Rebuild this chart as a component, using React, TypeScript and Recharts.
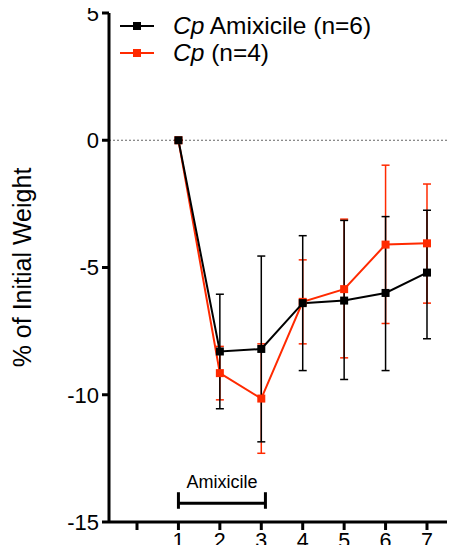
import { LineChart, Line, XAxis, YAxis, ErrorBar, ReferenceLine } from "recharts";

// days post infection
const days = [1, 2, 3, 4, 5, 6, 7];

// Cp Amixicile (n=6): mean and error bar ends
const amixMean = [0, -8.3, -8.2, -6.4, -6.3, -6.0, -5.2];
const amixLow = [0, -10.55, -11.85, -9.05, -9.4, -9.05, -7.8];
const amixHigh = [0, -6.05, -4.55, -3.75, -3.15, -3.0, -2.75];

// Cp (n=4)
const cpMean = [0, -9.15, -10.15, -6.35, -5.85, -4.1, -4.05];
const cpLow = [0, -10.2, -12.3, -8.0, -8.55, -7.2, -6.4];
const cpHigh = [0, -8.1, -8.0, -4.7, -3.1, -0.98, -1.72];

const xTicks = [0, 1, 2, 3, 4, 5, 6, 7];
const yTicks = [-15, -10, -5, 0, 5];

// treatment bracket
const treatStart = 1;
const treatEnd = 3.1;
const treatY = -14.26;
const capTop = -13.83;
const capBottom = -14.48;

const BLACK = "#000";
const RED = "#ff2a00";
const FONT = "'Liberation Sans', Arial, Helvetica, sans-serif";

const data = days.map((d, i) => ({
  day: d,
  amix: amixMean[i],
  amixErr: [amixMean[i] - amixLow[i], amixHigh[i] - amixMean[i]],
  cp: cpMean[i],
  cpErr: [cpMean[i] - cpLow[i], cpHigh[i] - cpMean[i]],
}));

const square = (color: string) => (props: any) => {
  const { cx, cy, index } = props;
  return <rect key={index} x={cx - 4} y={cy - 4} width={8} height={8} fill={color} />;
};

function LegendBox() {
  const rows = [
    { color: BLACK, italic: "Cp", rest: " Amixicile (n=6)" },
    { color: RED, italic: "Cp", rest: " (n=4)" },
  ];
  return (
    <div
      style={{
        position: "absolute",
        top: 12,
        left: 119,
        fontFamily: FONT,
        fontSize: 24.5,
        lineHeight: "27px",
        color: "#000",
      }}
    >
      {rows.map((r) => (
        <div key={r.rest} style={{ display: "flex", alignItems: "center", height: 27 }}>
          <svg width={36} height={10} style={{ marginRight: 18 }}>
            <line x1={1} y1={5} x2={35} y2={5} stroke={r.color} strokeWidth={2} />
            <rect x={14} y={1} width={8} height={8} fill={r.color} />
          </svg>
          <span>
            <i>{r.italic}</i>
            {r.rest}
          </span>
        </div>
      ))}
    </div>
  );
}

export default function App() {
  return (
    <div style={{ margin: -8, width: 455, height: 553, background: "#fff", position: "relative" }}>
      <LineChart
        width={455}
        height={553}
        data={data}
        margin={{ top: 13, right: 0, bottom: 0, left: 0 }}
        style={{ fontFamily: FONT }}
      >
        <XAxis
          dataKey="day"
          type="number"
          domain={[-0.676, 7.676]}
          ticks={xTicks}
          allowDataOverflow
          tickFormatter={(v) => (v === 0 ? "" : String(v))}
          height={31}
          stroke={BLACK}
          strokeWidth={3}
          tickSize={8}
          tickMargin={3}
          tick={{ fill: "#000", fontSize: 21.5 }}
        />
        <YAxis
          type="number"
          domain={[-15, 5]}
          ticks={yTicks}
          width={109}
          stroke={BLACK}
          strokeWidth={3}
          tickSize={7}
          tickMargin={3}
          tick={{ fill: "#000", fontSize: 22 }}
          label={{
            value: "% of Initial Weight",
            angle: -90,
            position: "center",
            dx: -32,
            style: { fill: "#000", fontSize: 25, textAnchor: "middle" },
          }}
        />
        <ReferenceLine y={0} stroke="#666" strokeDasharray="2 2" strokeWidth={1} />
        <ReferenceLine
          segment={[{ x: treatStart, y: treatY }, { x: treatEnd, y: treatY }]}
          stroke={BLACK}
          strokeWidth={3}
          label={{ value: "Amixicile", position: "top", offset: 15, fontSize: 18, fill: "#000" }}
        />
        <ReferenceLine
          segment={[{ x: treatStart, y: capTop }, { x: treatStart, y: capBottom }]}
          stroke={BLACK}
          strokeWidth={3}
        />
        <ReferenceLine
          segment={[{ x: treatEnd, y: capTop }, { x: treatEnd, y: capBottom }]}
          stroke={BLACK}
          strokeWidth={3}
        />
        <Line
          dataKey="cp"
          stroke={RED}
          strokeWidth={2}
          dot={square(RED)}
          activeDot={false}
          isAnimationActive={false}
        >
          <ErrorBar dataKey="cpErr" width={4} stroke={RED} strokeWidth={1.5} direction="y" />
        </Line>
        <Line
          dataKey="amix"
          stroke={BLACK}
          strokeWidth={2}
          dot={square(BLACK)}
          activeDot={false}
          isAnimationActive={false}
        >
          <ErrorBar dataKey="amixErr" width={4} stroke={BLACK} strokeWidth={1.5} direction="y" />
        </Line>
      </LineChart>
      <LegendBox />
    </div>
  );
}
